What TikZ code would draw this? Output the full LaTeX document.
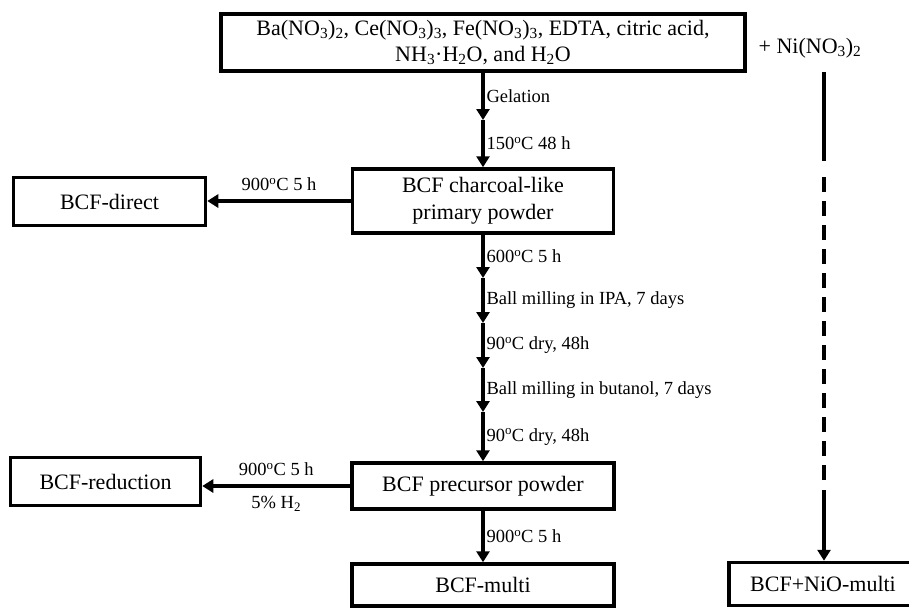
\documentclass[tikz,border=0pt]{standalone}
\usepackage{fontspec}
\setmainfont{Liberation Serif}
\usetikzlibrary{arrows.meta}
\tikzset{
  box/.style={draw, line width=3.5pt, inner sep=0pt, align=center, font=\fontsize{22}{26}\selectfont},
  lab/.style={inner sep=1.5pt, font=\fontsize{18.5}{20}\selectfont},
  arr/.style={line width=4pt, -{Triangle[length=11pt,width=13pt]}},
  conn/.style={line width=4pt},
  dashconn/.style={line width=4pt, dash pattern=on 15pt off 9pt}
}
\newcommand{\dg}{\textsuperscript{o}}
\begin{document}
\begin{tikzpicture}[x=1pt,y=-1pt]
\useasboundingbox (0,0) rectangle (909,608);
\fill[white] (0,0) rectangle (909,608);
\clip (0,0) rectangle (909,608);

% boxes
\node[box, minimum width=524, minimum height=57] (top) at (483,42.5)
  {Ba(NO\textsubscript{3})\textsubscript{2}, Ce(NO\textsubscript{3})\textsubscript{3}, Fe(NO\textsubscript{3})\textsubscript{3}, EDTA, citric acid,\\NH\textsubscript{3}·H\textsubscript{2}O, and H\textsubscript{2}O};
\node[box, minimum width=261, minimum height=64, font=\fontsize{22}{27}\selectfont] (char) at (483,201) {BCF charcoal-like\\primary powder};
\node[box, minimum width=192, minimum height=48] (direct) at (109.5,201.5) {BCF-direct};
\node[box, minimum width=262, minimum height=46] (prec) at (483,486) {BCF precursor powder};
\node[box, minimum width=190, minimum height=48] (red) at (105.5,481.5) {BCF-reduction};
\node[box, minimum width=262, minimum height=42] (multi) at (483,585) {BCF-multi};
\node[box, minimum width=188, minimum height=43] (nio) at (823,584) {BCF+NiO-multi};
\node[inner sep=0pt, font=\fontsize{22}{26}\selectfont] (ni) at (810,48) {+ Ni(NO\textsubscript{3})\textsubscript{2}};

% main chain coordinates
\coordinate (g1) at (483,120);
\coordinate (s1) at (483,278);
\coordinate (s2) at (483,323);
\coordinate (s3) at (483,368);
\coordinate (s4) at (483,412);

\draw[arr] (top.south) -- node[lab, right] (lgel) {Gelation} (g1);
\draw[arr] (g1) -- node[lab, right] (l150) {150\dg C 48 h} (char.north);
\draw[arr] (char.south) -- node[lab, right] (l600) {600\dg C 5 h} (s1);
\draw[arr] (s1) -- node[lab, right] (lipa) {Ball milling in IPA, 7 days} (s2);
\draw[arr] (s2) -- node[lab, right] (ldry1) {90\dg C dry, 48h} (s3);
\draw[arr] (s3) -- node[lab, right] (lbut) {Ball milling in butanol, 7 days} (s4);
\draw[arr] (s4) -- node[lab, right] (ldry2) {90\dg C dry, 48h} (prec.north);
\draw[arr] (prec.south) -- node[lab, right] (l900m) {900\dg C 5 h} (multi.north);

% side arrows
\draw[arr] (char.west) -- node[lab, yshift=17pt] (l900d) {900\dg C 5 h} (char.west -| direct.east);
\draw[arr] (prec.west) -- node[lab, yshift=17pt] (l900r) {900\dg C 5 h}
  node[lab, yshift=-18pt] (lh2) {5\% H\textsubscript{2}} (prec.west -| red.east);

% Ni branch
\coordinate (n0) at (824,72);
\coordinate (n1) at (824,161);
\coordinate (n2) at (824,177);
\coordinate (n3) at (824,481);
\coordinate (n4) at (824,490);
\draw[conn] (n0) -- (n1);
\draw[dashconn] (n2) -- (n3);
\draw[arr] (n4) -- (nio.north -| n4);
\end{tikzpicture}
\end{document}
